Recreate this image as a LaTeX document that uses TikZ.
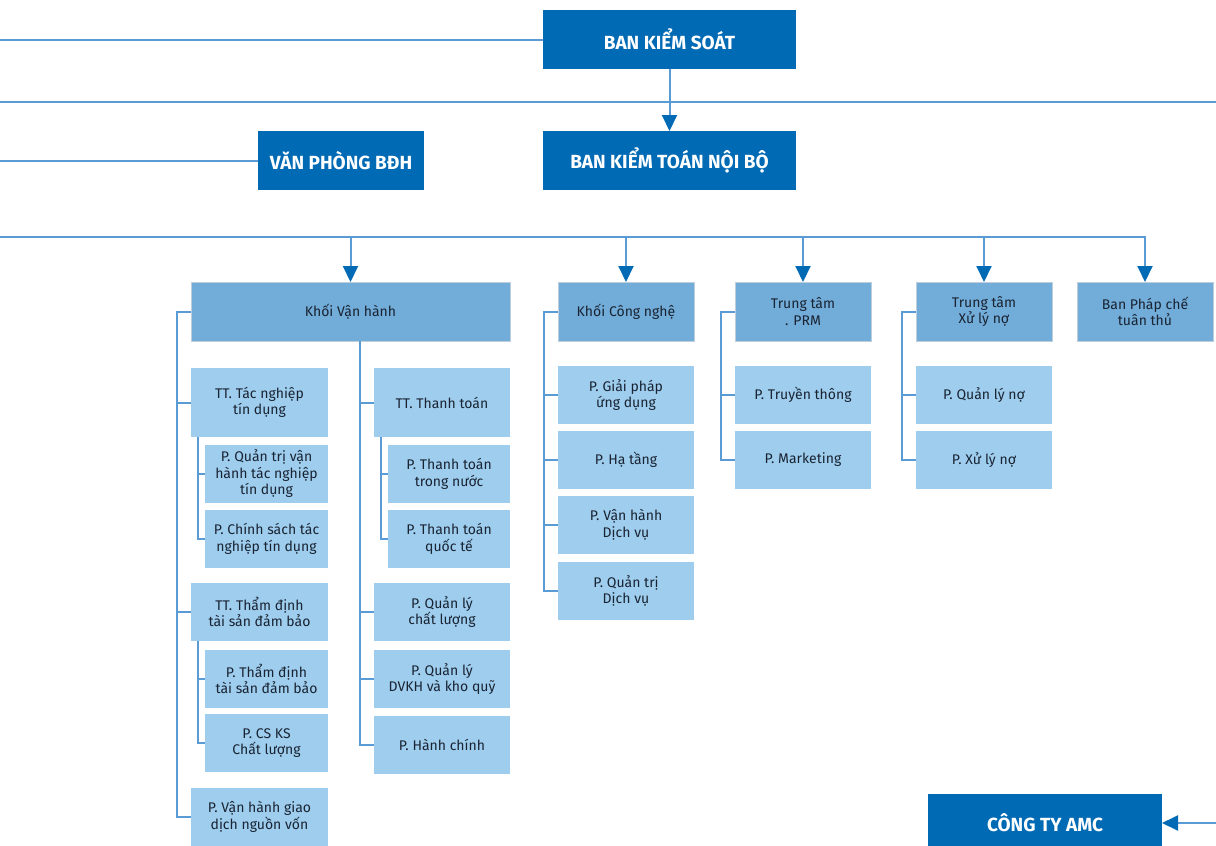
\documentclass[tikz,border=0pt]{standalone}
\usepackage{fontspec}
\setmainfont{Fira Sans}
\usetikzlibrary{arrows.meta,calc}
\definecolor{dk}{RGB}{0,106,180}
\definecolor{md}{RGB}{114,172,216}
\definecolor{lt}{RGB}{158,205,238}
\definecolor{lnc}{RGB}{91,155,213}
\definecolor{txt}{RGB}{25,35,50}
\definecolor{bd}{RGB}{190,205,220}
\tikzset{
  box/.style={rectangle, inner sep=0pt, outer sep=0pt, align=center,
    font=\fontsize{14}{16.5}\selectfont, text=txt},
  dkbox/.style={box, fill=dk, text=white, font=\fontsize{19}{22}\selectfont\bfseries},
  mdbox/.style={box, fill=md, draw=bd, line width=0.8pt},
  ltbox/.style={box, fill=lt},
  conn/.style={draw=lnc, line width=2pt},
  arr/.style={conn, -{Triangle[width=15pt,length=16pt,color=dk]}},
}
\newcommand{\bx}[7]{\node[#1, minimum width={(#5-#3)*1pt}, minimum height={(#6-#4)*1pt}] (#2) at ({(#3+#5)/2},{(#4+#6)/2}) {#7};}
\begin{document}
\begin{tikzpicture}[x=1pt,y=-1pt]
\clip (0,0) rectangle (1216,846);
\fill[white] (0,0) rectangle (1216,846);
% top level
\bx{dkbox}{bks}{543}{10}{796}{69}{BAN KIỂM SOÁT}
\bx{dkbox}{bktnb}{543}{131}{796}{190}{BAN KIỂM TOÁN NỘI BỘ}
\bx{dkbox}{vp}{258}{131}{424}{190}{VĂN PHÒNG BĐH}
\bx{dkbox}{amc}{928}{794}{1162}{852}{CÔNG TY AMC}
% second level
\bx{mdbox}{kvh}{191}{282}{510}{341}{Khối Vận hành}
\bx{mdbox}{kcn}{558}{282}{694}{341}{Khối Công nghệ}
\bx{mdbox}{prm}{735}{282}{871}{341}{Trung tâm\\. PRM}
\bx{mdbox}{xln}{916}{282}{1052}{341}{Trung tâm\\Xử lý nợ}
\bx{mdbox}{bpc}{1077}{282}{1213}{341}{Ban Pháp chế\\tuân thủ}
% Khoi van hanh, left
\bx{ltbox}{ttn}{191}{368}{328}{437}{TT. Tác nghiệp\\tín dụng}
\bx{ltbox}{pqt}{205}{445}{328}{503}{P. Quản trị vận\\hành tác nghiệp\\tín dụng}
\bx{ltbox}{pcs}{205}{510}{328}{568}{P. Chính sách tác\\nghiệp tín dụng}
\bx{ltbox}{ttd}{191}{583}{328}{641}{TT. Thẩm định\\tài sản đảm bảo}
\bx{ltbox}{ptd}{205}{650}{328}{708}{P. Thẩm định\\tài sản đảm bảo}
\bx{ltbox}{pks}{205}{714}{328}{772}{P. CS KS\\Chất lượng}
\bx{ltbox}{pvh}{191}{788}{328}{846}{P. Vận hành giao\\dịch nguồn vốn}
% Khoi van hanh, right
\bx{ltbox}{ttt}{374}{368}{510}{437}{TT. Thanh toán}
\bx{ltbox}{ptn}{388}{445}{510}{503}{P. Thanh toán\\trong nước}
\bx{ltbox}{pqte}{388}{510}{510}{568}{P. Thanh toán\\quốc tế}
\bx{ltbox}{pql}{374}{583}{510}{641}{P. Quản lý\\chất lượng}
\bx{ltbox}{pdv}{374}{650}{510}{708}{P. Quản lý\\DVKH và kho quỹ}
\bx{ltbox}{phc}{374}{716}{510}{774}{P. Hành chính}
% Khoi cong nghe
\bx{ltbox}{pgp}{558}{366}{694}{424}{P. Giải pháp\\ứng dụng}
\bx{ltbox}{pht}{558}{431}{694}{489}{P. Hạ tầng}
\bx{ltbox}{pvdv}{558}{496}{694}{554}{P. Vận hành\\Dịch vụ}
\bx{ltbox}{pqdv}{558}{562}{694}{620}{P. Quản trị\\Dịch vụ}
% PRM
\bx{ltbox}{ptt}{735}{366}{871}{424}{P. Truyền thông}
\bx{ltbox}{pmk}{735}{431}{871}{489}{P. Marketing}
% Xu ly no
\bx{ltbox}{pqn}{916}{366}{1052}{424}{P. Quản lý nợ}
\bx{ltbox}{pxn}{916}{431}{1052}{489}{P. Xử lý nợ}
% top connectors
\coordinate (l1) at (0,39.5);
\coordinate (l2a) at (0,102);
\coordinate (l2b) at (1216,102);
\coordinate (l3) at (0,160.5);
\coordinate (l4) at (0,237);
\coordinate (l5) at (1216,823);
\draw[conn] (l1) -- (bks.west);
\draw[conn] (l2a) -- (l2b);
\draw[conn] (l3) -- (vp.west);
\draw[arr] (bks.south) -- (bktnb.north);
\draw[arr] (l4) -| (bpc.north);
\draw[arr] (kvh.north |- l4) -- (kvh.north);
\draw[arr] (kcn.north |- l4) -- (kcn.north);
\draw[arr] (prm.north |- l4) -- (prm.north);
\draw[arr] (xln.north |- l4) -- (xln.north);
\draw[arr] (l5) -- (amc.east);
% Khoi van hanh tree
\draw[conn] (kvh.west) -- ++(-14pt,0pt) coordinate (s1) |- (ttn.west);
\draw[conn] (s1) |- (ttd.west);
\draw[conn] (s1) |- (pvh.west);
\draw[conn] ([xshift=7pt]ttn.south west) |- (pqt.west);
\draw[conn] ([xshift=7pt]ttn.south west) |- (pcs.west);
\draw[conn] ([xshift=7pt]ttd.south west) |- (ptd.west);
\draw[conn] ([xshift=7pt]ttd.south west) |- (pks.west);
\coordinate (s2) at ($(ttt.west |- kvh.south)+(-14pt,0pt)$);
\draw[conn] (s2) |- (ttt.west);
\draw[conn] (s2) |- (pql.west);
\draw[conn] (s2) |- (pdv.west);
\draw[conn] (s2) |- (phc.west);
\draw[conn] ([xshift=7pt]ttt.south west) |- (ptn.west);
\draw[conn] ([xshift=7pt]ttt.south west) |- (pqte.west);
% Khoi cong nghe tree
\draw[conn] (kcn.west) -- ++(-14pt,0pt) coordinate (s3) |- (pgp.west);
\draw[conn] (s3) |- (pht.west);
\draw[conn] (s3) |- (pvdv.west);
\draw[conn] (s3) |- (pqdv.west);
% PRM tree
\draw[conn] (prm.west) -- ++(-14pt,0pt) coordinate (s4) |- (ptt.west);
\draw[conn] (s4) |- (pmk.west);
% Xu ly no tree
\draw[conn] (xln.west) -- ++(-14pt,0pt) coordinate (s5) |- (pqn.west);
\draw[conn] (s5) |- (pxn.west);
\end{tikzpicture}
\end{document}
